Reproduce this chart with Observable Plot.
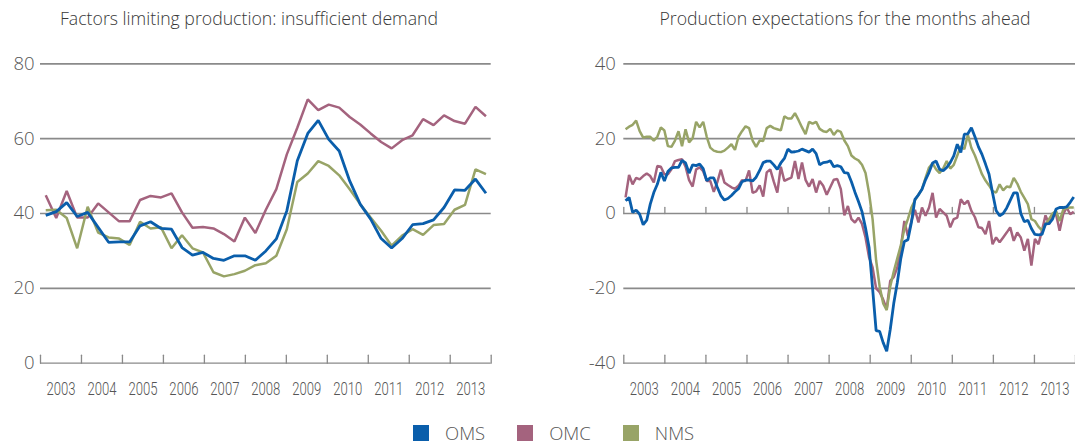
<!DOCTYPE html>
<html><head><meta charset="utf-8">
<script src="https://cdn.jsdelivr.net/npm/d3@7"></script>
<script src="https://cdn.jsdelivr.net/npm/@observablehq/plot@0.6"></script>
<style>
html,body{margin:0;padding:0;background:#fff;}
#wrap{position:relative;width:1075px;height:445px;overflow:hidden;font-family:"Open Sans",sans-serif;}
.title{position:absolute;top:6px;font-size:17.7px;line-height:24px;color:#383838;white-space:nowrap;transform:translateX(-50%);font-weight:300;}
.plot{position:absolute;top:40px;}
#legend{position:absolute;top:421px;left:413px;display:flex;align-items:center;font-size:18.5px;line-height:24px;color:#555;font-weight:300;}
#legend .sw{width:16px;height:16px;margin-right:16px;}
#legend .lb{margin-right:32px;}
</style>
</head><body>
<div id="wrap">
  <div class="title" style="left:249px">Factors limiting production: insufficient demand</div>
  <div class="title" style="left:845px">Production expectations for the months ahead</div>
  <div class="plot" id="left" style="left:0px"></div>
  <div class="plot" id="right" style="left:537px"></div>
  <div id="legend"></div>
</div>
<script>
// ---- data ----
const seriesNames = ["OMS", "OMC", "NMS"];
const seriesColors = ["#0A5EAB", "#A4637E", "#98A467"];
const yearLabels = [2003, 2004, 2005, 2006, 2007, 2008, 2009, 2010, 2011, 2012, 2013];
const yearEdges = [2003, 2004, 2005, 2006, 2007, 2008, 2009, 2010, 2011, 2012, 2013, 2014];

// Left panel: quarterly, 2003Q1 - 2013Q3
const leftGrid = [20, 40, 60, 80];
const leftLabels = [0, 20, 40, 60, 80];
const leftOMS = [39.5,40.5,42.9,39.2, 40.3,36.3,32.3,32.4, 32.4,36.7,37.8,36.0, 35.8,30.9,28.9,29.6,
  28.0,27.5,28.7,28.7, 27.5,30.0,33.2,40.7, 54.1,61.4,64.9,59.8, 56.7,48.7,42.5,38.5,
  33.3,30.8,33.3,37.0, 37.3,38.3,41.6,46.3, 46.2,49.2,45.4];
const leftOMC = [44.9,38.8,46.0,38.9, 38.9,42.7,40.3,37.9, 37.9,43.6,44.7,44.3, 45.4,40.3,36.2,36.4,
  36.0,34.5,32.5,38.9, 34.8,41.0,46.5,55.8, 62.9,70.5,67.6,69.1, 68.3,65.8,63.8,61.4,
  59.1,57.4,59.6,60.9, 65.2,63.6,66.2,64.7, 64.0,68.5,66.0];
const leftNMS = [40.9,41.0,38.8,30.7, 41.8,34.9,33.6,33.3, 31.6,37.8,36.0,36.3, 30.7,34.2,30.7,29.6,
  24.3,23.2,23.8,24.7, 26.2,26.7,28.7,35.8, 48.4,50.7,54.0,52.7, 50.2,46.5,42.5,38.9,
  35.4,31.4,34.1,35.8, 34.3,36.9,37.2,41.0, 42.3,51.8,50.5];

// Right panel: monthly, 2003-01 - 2013-08
const rightGrid = [-20, 0, 20, 40];
const rightLabels = [-40, -20, 0, 20, 40];
const rightOMS = [
  3.4, 4.3, 0.3, 0.9, -0.2, -3.0, -1.8, 2.5, 5.6, 7.8, 11.0, 8.7,
  11.2, 12.2, 12.3, 12.3, 14.2, 13.5, 10.8, 13.0, 12.8, 13.2, 12.0, 8.8,
  9.5, 9.5, 7.0, 4.8, 3.6, 4.0, 4.8, 5.8, 6.6, 8.5, 8.9, 8.9,
  8.7, 9.7, 11.5, 13.6, 14.0, 14.0, 13.0, 11.8, 13.5, 14.7, 17.2, 16.4,
  16.5, 16.7, 17.2, 16.8, 16.4, 17.2, 16.0, 13.0, 13.6, 13.7, 14.1, 12.5,
  12.8, 12.5, 10.9, 10.8, 8.5, 5.7, 3.2, 0.5, -3.9, -9.0, -20.0, -31.3,
  -31.5, -34.5, -36.8, -31.0, -24.0, -18.5, -12.0, -7.5, -7.0, -2.4, 3.8, 5.0,
  6.5, 9.0, 11.0, 13.5, 14.0, 11.8, 11.4, 12.3, 13.6, 15.4, 18.5, 16.3,
  21.2, 21.3, 22.9, 20.5, 17.8, 15.8, 13.2, 10.5, 5.5, 0.8, -0.6, 0.0,
  1.5, 3.5, 5.5, 5.5, 0.0, -2.2, -1.8, -4.0, -5.6, -5.7, -5.6, -2.8,
  -2.7, -1.5, 1.2, 1.6, 1.6, 1.8, 3.0, 4.4];
const rightOMC = [
  4.3, 10.3, 7.8, 9.5, 9.1, 10.0, 10.7, 10.0, 8.3, 12.7, 12.5, 10.5,
  10.5, 11.8, 14.0, 14.3, 14.5, 12.5, 8.9, 7.2, 11.8, 12.3, 11.3, 8.7,
  8.7, 5.8, 8.4, 11.7, 8.3, 7.6, 7.0, 6.6, 7.4, 8.9, 8.7, 11.5,
  5.5, 5.9, 7.5, 4.5, 11.0, 11.8, 8.5, 5.6, 12.5, 8.7, 9.2, 9.6,
  14.0, 9.2, 13.6, 9.0, 7.2, 9.2, 5.6, 8.7, 7.4, 5.0, 7.0, 9.0,
  9.2, 6.5, -0.5, 2.0, -1.5, -2.4, -1.1, -2.8, -6.4, -11.7, -14.4, -20.0,
  -21.0, -23.0, -25.5, -18.0, -17.0, -14.4, -9.1, -2.0, -6.0, -2.0, 1.0, -2.4,
  1.6, -0.6, 1.6, 5.5, -1.1, 1.2, 0.3, -0.6, -3.7, -1.5, -1.1, 3.8,
  2.5, 3.4, 0.7, -1.0, -3.7, -3.9, -5.5, -2.0, -8.2, -6.4, -7.7, -6.4,
  -5.1, -3.7, -7.3, -5.1, -6.4, -9.9, -6.8, -13.9, -6.8, -8.2, -4.6, -0.5,
  -2.8, -0.6, -0.2, -4.6, -0.2, 1.6, -0.2, 0.5];
const rightNMS = [
  22.5, 23.2, 23.7, 24.8, 22.0, 20.3, 20.5, 20.5, 19.5, 20.5, 23.0, 22.2,
  18.0, 17.8, 19.5, 22.0, 18.0, 22.5, 19.0, 20.1, 24.5, 23.0, 24.5, 20.5,
  17.6, 16.8, 16.5, 16.4, 16.8, 17.6, 18.5, 17.0, 20.5, 22.0, 23.3, 22.8,
  19.5, 17.8, 19.5, 19.4, 22.8, 23.4, 22.8, 22.5, 22.2, 26.0, 25.4, 25.4,
  26.8, 25.0, 23.0, 21.2, 24.5, 24.0, 24.5, 22.6, 22.0, 21.8, 22.6, 21.0,
  22.2, 21.8, 19.5, 18.0, 15.5, 14.7, 14.2, 13.0, 10.8, 5.5, -1.5, -12.5,
  -19.5, -24.0, -25.8, -19.5, -15.5, -12.0, -8.5, -4.2, -1.5, 1.6, 3.5, 5.0,
  6.5, 9.5, 12.3, 13.4, 11.8, 10.8, 12.0, 14.0, 12.0, 13.0, 15.5, 18.0,
  17.2, 21.0, 17.5, 15.5, 13.0, 10.5, 8.8, 7.5, 6.0, 5.6, 7.8, 6.2,
  7.2, 7.0, 9.5, 8.0, 5.8, 4.2, 2.5, -1.5, -2.0, -3.5, -4.5, -3.0,
  -1.5, 0.0, 0.7, -2.0, 1.0, 1.5, 1.6, 1.6];

// ---- helpers ----
const gridColor = "#8A8A8A";
const numFont = '"Open Sans", sans-serif';
const yearFont = 'Roboto, "Open Sans", sans-serif';
const yearSqueeze = 0.69; // condensed look of the year labels
const tickShape = {draw(context, l) { context.moveTo(0, 0); context.lineTo(0, -l); }};

// observations spread evenly over the 11-year span
function toRows(name, values) {
  const n = values.length;
  return values.map((v, i) => ({x: 2003 + (i + 0.5) * 11 / n, y: v, series: name}));
}

function panel({values, yDomain, gridTicks, labelTicks, tickBaselines, width, marginLeft, marginRight, tickPadding}) {
  const rows = seriesNames.map((s, k) => toRows(s, values[k]));
  const drawOrder = [1, 2, 0]; // OMC, NMS, then OMS on top
  const svg = Plot.plot({
    width, height: 360,
    marginLeft, marginRight, marginTop: 23.3, marginBottom: 37.3,
    style: {background: "transparent", color: "#555", fontFamily: numFont, overflow: "visible"},
    x: {domain: [yearEdges[0], yearEdges[yearEdges.length - 1]], axis: null},
    y: {domain: yDomain},
    marks: [
      Plot.ruleY(gridTicks, {stroke: gridColor, strokeWidth: 1.7}),
      Plot.ruleY([yDomain[0]], {stroke: gridColor, strokeWidth: 1.3}),
      ...tickBaselines.map(([base, len]) =>
        Plot.vector(yearEdges, {x: d => d, y: base, length: len, rotate: 0, anchor: "start",
          shape: tickShape, stroke: gridColor, strokeWidth: 1.3})),
      ...drawOrder.map(k => Plot.line(rows[k], {x: "x", y: "y", stroke: seriesColors[k],
        strokeWidth: k === 0 ? 2.8 : 2.5, strokeLinejoin: "miter", strokeLinecap: "butt"})),
      Plot.axisY({ticks: labelTicks, tickSize: 0, tickPadding, tickFormat: d => String(d), label: null,
        fontSize: 18.5, fontFamily: numFont, fontWeight: 300, fill: "#555"}),
      Plot.text(yearLabels, {x: d => d + 0.5, y: yDomain[0], dy: 25.5, text: d => String(d),
        fontSize: 19, fontFamily: yearFont, fontWeight: 300, fill: "#555", className: "yearlbl"})
    ]
  });
  svg.querySelectorAll(".yearlbl text").forEach(t => {
    const tr = t.getAttribute("transform");
    if (tr) {
      t.setAttribute("transform", tr + ` scale(${yearSqueeze},1)`);
    } else {
      const x = +t.getAttribute("x") || 0, y = +t.getAttribute("y") || 0;
      t.removeAttribute("x"); t.removeAttribute("y");
      t.setAttribute("transform", `translate(${x},${y}) scale(${yearSqueeze},1)`);
    }
  });
  return svg;
}

document.getElementById("left").append(panel({
  values: [leftOMS, leftOMC, leftNMS],
  yDomain: [0, 80], gridTicks: leftGrid, labelTicks: leftLabels,
  tickBaselines: [[0, 8]],
  width: 537, marginLeft: 40, marginRight: 46.3, tickPadding: 6
}));
document.getElementById("right").append(panel({
  values: [rightOMS, rightOMC, rightNMS],
  yDomain: [-40, 40], gridTicks: rightGrid, labelTicks: rightLabels,
  tickBaselines: [[0, 6], [-40, 8]],
  width: 538, marginLeft: 86.3, marginRight: 0, tickPadding: 8
}));

// legend
const legend = document.getElementById("legend");
seriesNames.forEach((s, k) => {
  const sw = document.createElement("span"); sw.className = "sw"; sw.style.background = seriesColors[k];
  const lb = document.createElement("span"); lb.className = "lb"; lb.textContent = s;
  legend.append(sw, lb);
});
</script>
</body></html>
